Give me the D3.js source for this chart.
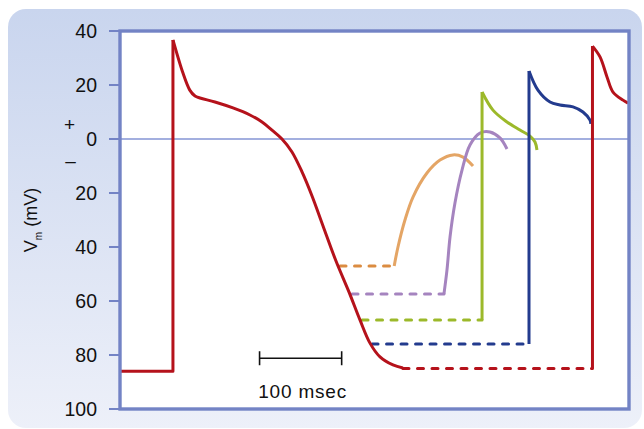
<!DOCTYPE html>
<html>
<head>
<meta charset="utf-8">
<script src="https://cdn.jsdelivr.net/npm/d3@7"></script>
<style>
  html, body { margin: 0; padding: 0; background: #fff; }
  svg { display: block; font-family: 'Liberation Sans', Arial, sans-serif; }
</style>
</head>
<body>
<div id="graf"></div>
<script>
// values: [time in msec, Vm in mV]
const yTicks = [40, 20, 0, -20, -40, -60, -80, -100]

const redRest = [[0, -86], [64.5, -86], [64.5, 36.7]]
const redFall = [[64.5, 36.7], [76.7, 24.4], [85, 18.1], [91.4, 15.9], [97.4, 15.2], [115.7, 13.7], [137.6, 11.5], [158.3, 8.9], [173, 6.3], [185.1, 3.3], [197.3, 0], [209.5, -4.8], [221.7, -12.2], [233.9, -21.1], [247.3, -32.2], [263.1, -45.2], [279, -56.7], [292.3, -67], [304.5, -75.6], [316.7, -80.7], [332.5, -83.7], [344.7, -84.8]]
const redDash = [[344.7, -85], [575.5, -85]]
const redUp2 = [[575.5, -85], [575.5, 34.4]]
const redFall2 = [[575.5, 34.4], [584.7, 30.4], [593.2, 23], [600.5, 17.4], [612.7, 14.4], [618.8, 13.3]]

const orangeDash = [[268, -47], [334, -47]]
const orangeCurve = [[334, -47], [338.6, -40], [347.1, -30], [356.9, -21.5], [373.9, -12.6], [389.8, -7.8], [405.6, -5.9], [417.8, -6.7], [430, -10]]

const purpleDash = [[282.6, -57.4], [394.6, -57.4]]
const purpleCurve = [[394.6, -57.4], [398.3, -48.5], [402, -36.3], [408, -23.7], [416.6, -11.5], [426.3, -2.2], [438.5, 2.2], [450.7, 2.6], [462.8, 0.4], [471.4, -3.7]]

const greenDash = [[294.8, -67], [441, -67]]
const greenUp = [[441, -67], [441, 17.4]]
const greenFall = [[441, 17.4], [454.3, 10.7], [471.4, 6.3], [487.2, 3.3], [499.4, 1.1], [505.5, -1.1], [507.9, -4.1]]

const blueDash = [[307, -75.9], [498.2, -75.9]]
const blueUp = [[498.2, -75.9], [498.2, 25.2]]
const blueFall = [[498.2, 25.2], [509.1, 18.1], [523.8, 13.7], [535.9, 12.6], [551.8, 11.9], [563.9, 10], [572.5, 7], [573.5, 5.6]]

const scaleBarT = [170, 270]
const scaleBarV = -81.2

const anchoTotal = 644
const altoTotal = 429

const svg = d3.select('#graf')
  .append('svg')
  .attr('width', anchoTotal)
  .attr('height', altoTotal)

const defs = svg.append('defs')
const grad = defs.append('linearGradient')
  .attr('id', 'bg').attr('x1', 0).attr('y1', 0).attr('x2', 0).attr('y2', 1)
grad.append('stop').attr('offset', '0%').attr('stop-color', '#c9d5ee')
grad.append('stop').attr('offset', '100%').attr('stop-color', '#edf0f9')

svg.append('rect')
  .attr('x', 8).attr('y', 9)
  .attr('width', 634).attr('height', 419)
  .attr('rx', 18)
  .attr('fill', 'url(#bg)')

const x = d3.scaleLinear().domain([0, 620]).range([120, 629])
const y = d3.scaleLinear().domain([-100, 40]).range([409, 31])

const frameColor = '#7383c5'

svg.append('rect')
  .attr('x', x(0)).attr('y', y(40))
  .attr('width', x(620) - x(0)).attr('height', y(-100) - y(40))
  .attr('fill', '#fff')

// zero line
svg.append('line')
  .attr('x1', x(0)).attr('x2', x(620))
  .attr('y1', y(0)).attr('y2', y(0))
  .attr('stroke', '#8595d4').attr('stroke-width', 1.6)

const linea = d3.line().x((d) => x(d[0])).y((d) => y(d[1]))
const curva = d3.line().x((d) => x(d[0])).y((d) => y(d[1])).curve(d3.curveCatmullRom.alpha(0.5))

function dash(data, color) {
  svg.append('path')
    .attr('d', linea(data))
    .attr('fill', 'none')
    .attr('stroke', color)
    .attr('stroke-width', 3)
    .attr('stroke-linecap', 'round')
    .attr('stroke-dasharray', '6,8.5')
}

function solid(data, color, gen) {
  svg.append('path')
    .attr('d', gen(data))
    .attr('fill', 'none')
    .attr('stroke', color)
    .attr('stroke-width', 3)
    .attr('stroke-linejoin', 'round')
}

const cOrange = '#e4a565'
const cOrangeDash = '#db8c41'
const cPurple = '#a584bf'
const cGreen = '#9cb92a'
const cBlue = '#233b8e'
const cRed = '#b5121b'

dash(orangeDash, cOrangeDash)
dash(purpleDash, cPurple)
dash(greenDash, cGreen)
dash(blueDash, cBlue)
dash(redDash, cRed)

solid(orangeCurve, cOrange, curva)
solid(purpleCurve, cPurple, curva)
solid(greenUp, cGreen, linea)
solid(greenFall, cGreen, curva)
solid(blueUp, cBlue, linea)
solid(blueFall, cBlue, curva)
solid(redRest, cRed, linea)
solid(redFall, cRed, curva)
solid(redUp2, cRed, linea)
solid(redFall2, cRed, curva)

// frame
svg.append('rect')
  .attr('x', x(0)).attr('y', y(40))
  .attr('width', x(620) - x(0)).attr('height', y(-100) - y(40))
  .attr('fill', 'none')
  .attr('stroke', frameColor)
  .attr('stroke-width', 3.4)

// y axis ticks and labels
const yAxis = svg.append('g')
yAxis.selectAll('line').data(yTicks).join('line')
  .attr('x1', 109).attr('x2', x(0))
  .attr('y1', (d) => y(d)).attr('y2', (d) => y(d))
  .attr('stroke', frameColor).attr('stroke-width', 2)
yAxis.selectAll('text').data(yTicks).join('text')
  .attr('x', 97).attr('y', (d) => y(d))
  .attr('dy', '0.36em')
  .attr('text-anchor', 'end')
  .attr('font-size', 19.5)
  .attr('fill', '#111')
  .text((d) => Math.abs(d))

svg.append('text').attr('x', 69.5).attr('y', y(0) - 15)
  .attr('dy', '0.35em').attr('text-anchor', 'middle')
  .attr('font-size', 19).attr('fill', '#111').text('+')
svg.append('text').attr('x', 70.5).attr('y', y(0) + 21)
  .attr('dy', '0.35em').attr('text-anchor', 'middle')
  .attr('font-size', 19).attr('fill', '#111').text('–')

const yLabel = svg.append('text')
  .attr('transform', 'translate(37, 220) rotate(-90)')
  .attr('text-anchor', 'middle')
  .attr('font-size', 18)
  .attr('fill', '#111')
yLabel.append('tspan').text('V')
yLabel.append('tspan').attr('font-size', 10).attr('dy', 5).text('m')
yLabel.append('tspan').attr('dy', -5).text(' (mV)')

// 100 msec scale bar
const bar = svg.append('g').attr('stroke', '#111').attr('stroke-width', 1.6)
bar.append('line')
  .attr('x1', x(scaleBarT[0])).attr('x2', x(scaleBarT[1]))
  .attr('y1', y(scaleBarV)).attr('y2', y(scaleBarV))
bar.selectAll('.end').data(scaleBarT).join('line')
  .attr('class', 'end')
  .attr('x1', (d) => x(d)).attr('x2', (d) => x(d))
  .attr('y1', y(scaleBarV) - 7).attr('y2', y(scaleBarV) + 7)
svg.append('text')
  .attr('x', x((scaleBarT[0] + scaleBarT[1]) / 2) + 2)
  .attr('y', 398)
  .attr('text-anchor', 'middle')
  .attr('font-size', 19)
  .attr('letter-spacing', 0.8)
  .attr('fill', '#111')
  .text('100 msec')
</script>
</body>
</html>
